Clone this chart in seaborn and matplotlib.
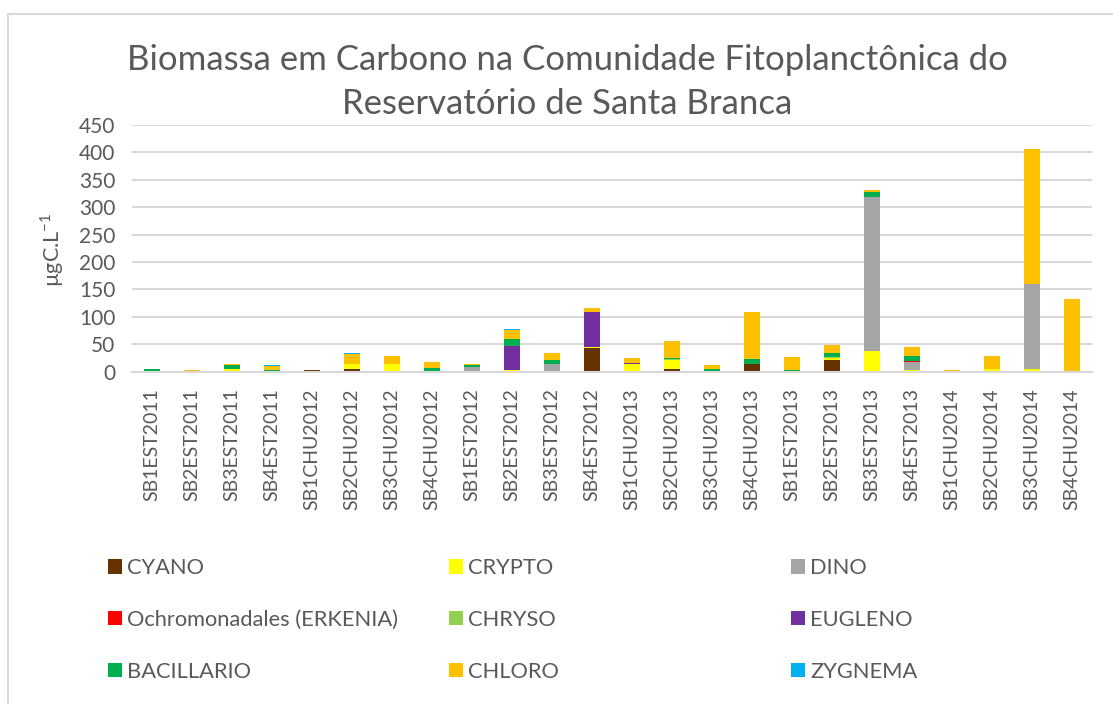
import matplotlib
matplotlib.use("Agg")
import matplotlib.pyplot as plt
from matplotlib.patches import Patch
from matplotlib.lines import Line2D
import numpy as np
import pandas as pd
import seaborn as sns

# Sampling campaigns (station + season + year)
samples = [
    "SB1EST2011", "SB2EST2011", "SB3EST2011", "SB4EST2011",
    "SB1CHU2012", "SB2CHU2012", "SB3CHU2012", "SB4CHU2012",
    "SB1EST2012", "SB2EST2012", "SB3EST2012", "SB4EST2012",
    "SB1CHU2013", "SB2CHU2013", "SB3CHU2013", "SB4CHU2013",
    "SB1EST2013", "SB2EST2013", "SB3EST2013", "SB4EST2013",
    "SB1CHU2014", "SB2CHU2014", "SB3CHU2014", "SB4CHU2014",
]

# Carbon biomass per phytoplankton group (µgC/L), stacked bottom to top
cyano = [0, 0, 0, 0, 2.5, 4, 0, 0, 0, 0, 0, 42.5, 0, 4, 0, 13.5, 0, 20.5, 0, 0, 1, 0, 0, 0]
crypto = [0, 0.5, 5, 0, 0, 9, 13, 1, 0, 3, 0, 3, 13, 16.5, 1, 0, 0, 4, 37, 3.5, 0, 4, 4, 0]
dino = [0, 0, 0, 0, 0, 0, 0, 0, 9, 0, 14, 0, 0, 0, 0, 0, 0, 0, 282, 13.5, 0, 0, 155, 0]
ochro = [0, 0, 0, 0, 0, 0, 0, 0, 0, 0, 0, 0, 0, 0, 0, 0, 0, 0, 0, 1.8, 0, 0, 0, 0]
chryso = [1, 0, 0, 1, 0, 0, 0, 0, 0, 0, 0, 0, 0, 2, 0, 0, 0, 1.5, 0, 1, 0, 0, 0, 0]
eugleno = [0, 0, 0, 0, 0, 0, 0, 0, 0, 44, 0, 62.5, 2, 0, 0, 0, 0, 0, 0, 0, 0, 0, 0, 0]
bacillario = [4, 0, 7, 1, 0, 0, 0, 6, 3, 13, 7, 0, 0, 2.5, 4, 9, 3, 8, 9, 8.5, 0, 0, 0, 1]
chloro = [0, 3, 2, 8, 1, 19, 16, 11, 2.5, 16, 12, 8.5, 10, 30, 6, 85.5, 24, 14.5, 3, 17, 1, 25, 248, 131]
zygnema = [0, 0, 0, 1, 0, 1, 0, 0, 0, 2, 0, 0, 0, 1, 1.5, 0, 0, 0, 0, 0, 0, 0, 0, 0]

group_names = ["CYANO", "CRYPTO", "DINO", "Ochromonadales (ERKENIA)", "CHRYSO",
               "EUGLENO", "BACILLARIO", "CHLORO", "ZYGNEMA"]
group_values = [cyano, crypto, dino, ochro, chryso, eugleno, bacillario, chloro, zygnema]
group_colors = ["#663300", "#FFFF00", "#A5A5A5", "#FF0000", "#92D050",
                "#7030A0", "#00B050", "#FFC000", "#00B0F0"]

y_ticks = list(range(0, 451, 50))

TEXT = "#595959"
GRID = "#D9D9D9"

sns.set_theme(style="white")
plt.rcParams["font.family"] = ["Lato", "DejaVu Sans"]
plt.rcParams["text.color"] = TEXT
plt.rcParams["axes.labelcolor"] = TEXT
plt.rcParams["xtick.color"] = TEXT
plt.rcParams["ytick.color"] = TEXT

W, H = 1113, 704
fig = plt.figure(figsize=(W / 100, H / 100), dpi=100)
fig.patch.set_facecolor("white")

def fx(px):
    return px / W

def fy(py):
    return 1 - py / H

ax = fig.add_axes([fx(132), fy(371.5), fx(1092) - fx(132), fy(125) - fy(371.5)])

# Stacked bars: draw cumulative totals from the top layer down
cum = np.cumsum(np.array(group_values, dtype=float), axis=0)
for k in range(len(group_names) - 1, -1, -1):
    df = pd.DataFrame({"sample": samples, "value": cum[k]})
    sns.barplot(data=df, x="sample", y="value", order=samples, color=group_colors[k],
                saturation=1, width=0.4, errorbar=None, ax=ax, linewidth=0, zorder=2)

ax.set_xlim(-0.5, len(samples) - 0.5)
ax.set_ylim(0, 450)
ax.set_yticks(y_ticks)
ax.set_yticklabels([str(t) for t in y_ticks], fontsize=15)
ax.tick_params(axis="y", length=0, pad=12)
ax.tick_params(axis="x", length=0, pad=12, labelsize=14, labelrotation=90)
ax.set_xlabel("")
ax.set_ylabel("")
ax.yaxis.grid(True, color=GRID, linewidth=1.5, zorder=0)
ax.set_axisbelow(True)
for side in ["left", "right", "top"]:
    ax.spines[side].set_visible(False)
ax.spines["bottom"].set_color(GRID)
ax.spines["bottom"].set_linewidth(1.5)

# Axis title
fig.text(fx(52), fy(250), "\u00b5gC.L$^{\\mathregular{-1}}$", rotation=90,
         ha="center", va="center", fontsize=15.5, color=TEXT)

# Chart title
fig.text(fx(567), fy(60), "Biomassa em Carbono na Comunidade Fitoplanctônica do",
         ha="center", va="center", fontsize=25, color=TEXT)
fig.text(fx(567), fy(104), "Reservatório de Santa Branca",
         ha="center", va="center", fontsize=25, color=TEXT)

# Legend: three columns, read row by row
col_x = [108, 449, 791]
for c in range(3):
    idx = [c, c + 3, c + 6]
    handles = [Patch(facecolor=group_colors[i], edgecolor="none") for i in idx]
    labels = [group_names[i] for i in idx]
    fig.legend(handles, labels, loc="upper left",
               bbox_to_anchor=(fx(col_x[c]), fy(558)), bbox_transform=fig.transFigure,
               frameon=False, fontsize=15.75, borderpad=0, borderaxespad=0,
               handlelength=0.64, handleheight=0.64, handletextpad=0.23,
               labelspacing=1.46, labelcolor=TEXT)

# Chart-area frame
fig.add_artist(Line2D([fx(8), fx(8)], [fy(14), 0], color=GRID, linewidth=1.5,
                      transform=fig.transFigure))
fig.add_artist(Line2D([fx(8), 1], [fy(14), fy(14)], color=GRID, linewidth=1.5,
                      transform=fig.transFigure))

fig.savefig("out.png", dpi=100, facecolor="white")
